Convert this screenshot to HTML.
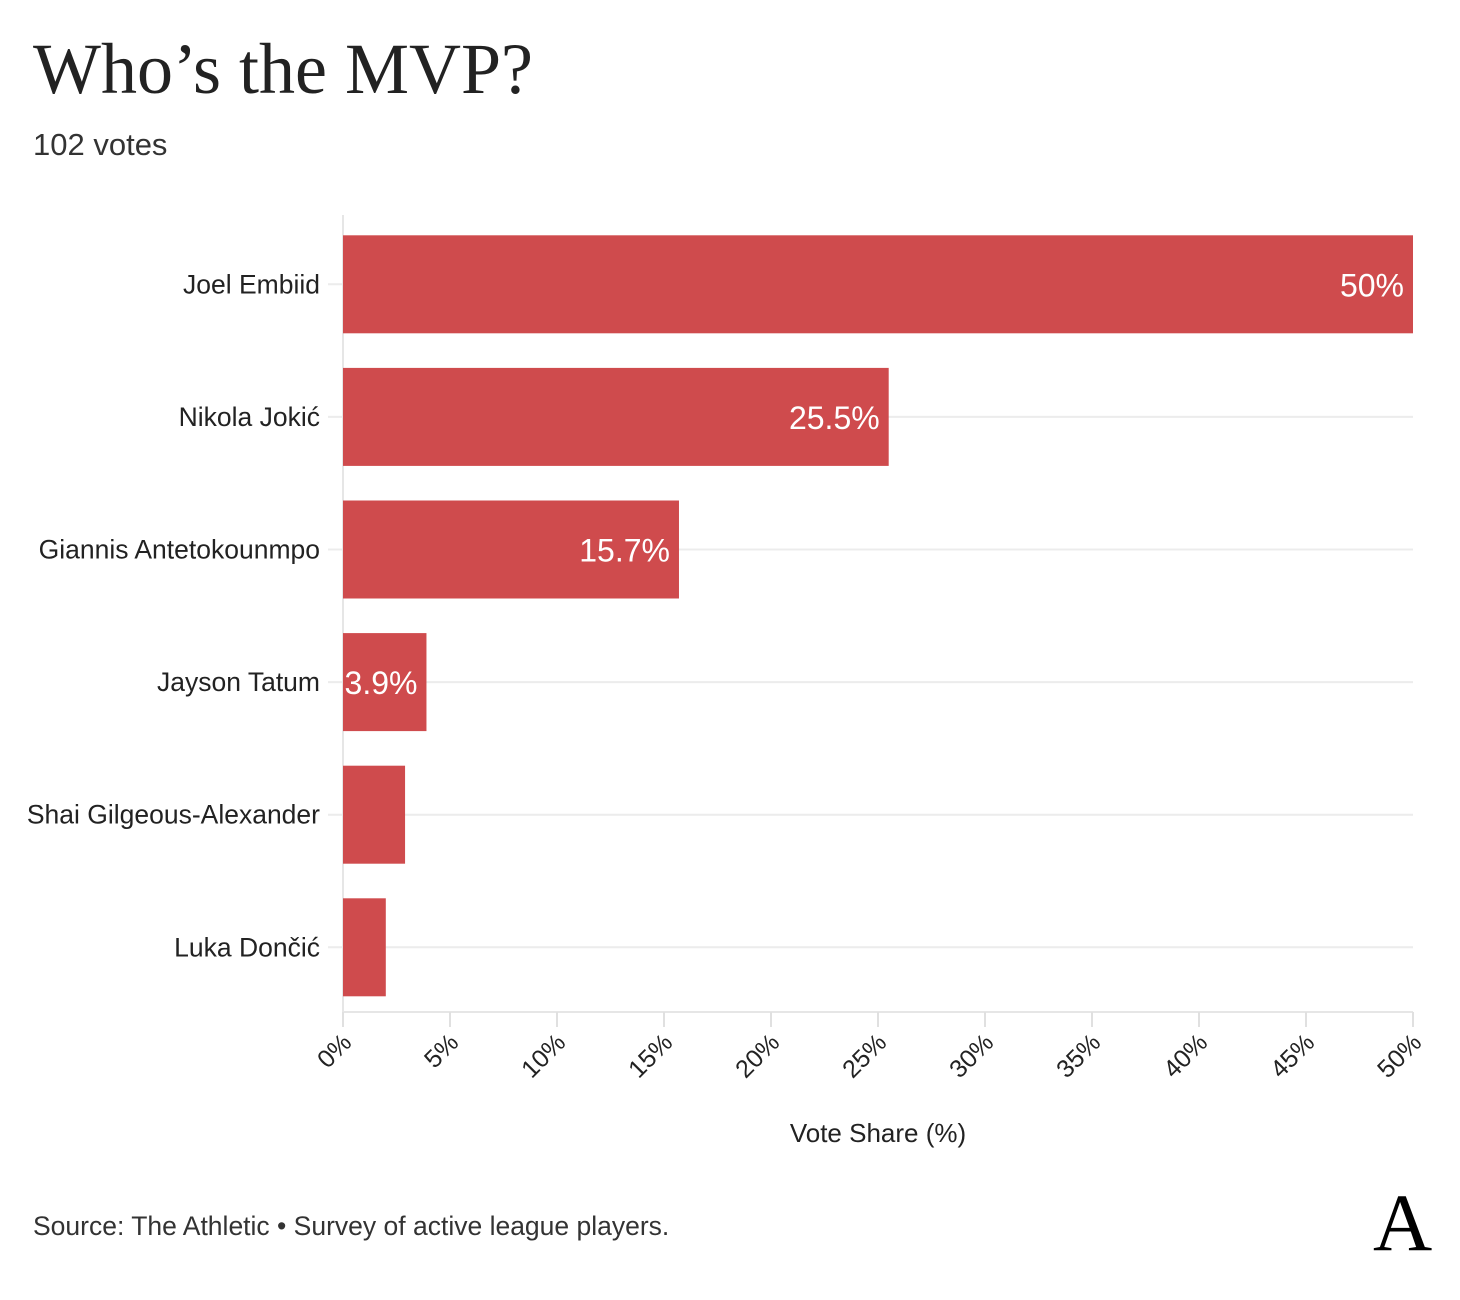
<!DOCTYPE html>
<html><head><meta charset="utf-8">
<style>
body{margin:0;background:#fff;width:1460px;height:1300px;overflow:hidden;font-family:"Liberation Sans",sans-serif;}
#t{position:absolute;left:33px;top:28px;font-family:"Liberation Serif",serif;font-size:72px;color:#222;margin:0;font-weight:normal;}
#s{position:absolute;left:33px;top:127px;font-size:31px;color:#333;}
#src{position:absolute;left:33px;top:1211px;font-size:26.5px;color:#333;}
#logo{position:absolute;left:1373px;top:1188px;font-family:"Liberation Serif",serif;font-size:82px;line-height:70px;color:#000;}
</style></head><body>
<h1 id="t">Who’s the MVP?</h1>
<div id="s">102 votes</div>
<svg id="c" width="1460" height="1300" style="position:absolute;left:0;top:0"></svg>
<div id="src">Source: The Athletic • Survey of active league players.</div>
<div id="logo">A</div>
<script>
const categories=["Joel Embiid","Nikola Jokić","Giannis Antetokounmpo","Jayson Tatum","Shai Gilgeous-Alexander","Luka Dončić"];
const values=[50,25.5,15.7,3.9,2.9,2.0];
const labels=["50%","25.5%","15.7%","3.9%","",""];
const ticks=[0,5,10,15,20,25,30,35,40,45,50];
const tickLabels=["0%","5%","10%","15%","20%","25%","30%","35%","40%","45%","50%"];
const NS="http://www.w3.org/2000/svg";
const svg=document.getElementById('c');
const x0=343,x1=1413,top0=218,step=132.6,bh=98;
const xs=v=>x0+(v/50)*(x1-x0);
const yc=i=>top0+step*i+step/2;
function mk(t,a){const e=document.createElementNS(NS,t);for(const k in a)e.setAttribute(k,a[k]);svg.appendChild(e);return e;}
categories.forEach((c,i)=>{
 const g=mk('line',{x1:328,x2:x1,y1:yc(i),y2:yc(i),stroke:'#ececec','stroke-width':2});
 
 
});
const ax=mk('line',{x1:x0,x2:x0,y1:215,y2:1020,stroke:'#e6e6e6','stroke-width':2});


const bx=mk('line',{x1:x0,x2:x1,y1:1012,y2:1012,stroke:'#e6e6e6','stroke-width':2});


categories.forEach((c,i)=>{
 const r=mk('rect',{x:x0,y:yc(i)-bh/2,width:xs(values[i])-x0,height:bh,fill:'#cf4b4d'});
 
 
 const t=mk('text',{x:320,y:yc(i)+9,'text-anchor':'end','font-size':26.5,fill:'#222'});
 t.textContent=c;
 
 
 if(labels[i]){
  const v=mk('text',{x:xs(values[i])-9,y:yc(i)+12,'text-anchor':'end','font-size':32,fill:'#fff'});
  v.textContent=labels[i];
  
  
 }
});
ticks.forEach((tk,i)=>{
 const x=xs(tk);
 const l=mk('line',{x1:x,x2:x,y1:1012,y2:1027,stroke:'#e0e0e0','stroke-width':2});
 
 
 const t=mk('text',{x:x+10,y:1044,'text-anchor':'end','font-size':25,fill:'#222',transform:`rotate(-45 ${x+10} 1044)`});
 t.textContent=tickLabels[i];
 
 
});
const xt=mk('text',{x:(x0+x1)/2,y:1142,'text-anchor':'middle','font-size':26,fill:'#222'});
xt.textContent="Vote Share (%)";


</script>
</body></html>
